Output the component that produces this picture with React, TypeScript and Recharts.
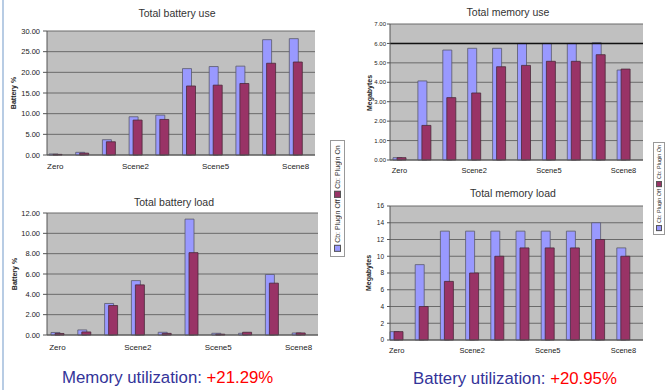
import { BarChart, Bar, XAxis, YAxis, CartesianGrid, ReferenceLine } from "recharts";

const scenes = ["Zero", "Scene0", "Scene1", "Scene2", "Scene3", "Scene4", "Scene5", "Scene6", "Scene7", "Scene8"];

const batteryUseOff = [0.25, 0.65, 3.7, 9.25, 9.65, 20.9, 21.4, 21.5, 27.9, 28.15];
const batteryUseOn = [0.15, 0.45, 3.2, 8.45, 8.6, 16.7, 16.9, 17.3, 22.2, 22.5];
const batteryLoadOff = [0.25, 0.5, 3.1, 5.35, 0.27, 11.4, 0.17, 0.17, 5.95, 0.2];
const batteryLoadOn = [0.15, 0.3, 2.9, 4.93, 0.16, 8.1, 0.08, 0.27, 5.1, 0.2];
const memoryUseOff = [0.12, 4.07, 5.66, 5.75, 5.75, 6.0, 6.0, 6.0, 6.04, 4.63];
const memoryUseOn = [0.12, 1.78, 3.21, 3.45, 4.8, 4.87, 5.08, 5.08, 5.42, 4.68];
const memoryLoadOff = [1, 9, 13, 13, 13, 13, 13, 13, 14, 11];
const memoryLoadOn = [1, 4, 7, 8, 10, 11, 11, 11, 12, 10];

const batteryUseTicks = [0, 5, 10, 15, 20, 25, 30];
const batteryLoadTicks = [0, 2, 4, 6, 8, 10, 12];
const memoryUseTicks = [0, 1, 2, 3, 4, 5, 6, 7];
const memoryLoadTicks = [0, 2, 4, 6, 8, 10, 12, 14, 16];

const seriesNames = ["Cb: Plugin Off", "Cb: Plugin On"];

const FONT = "'Liberation Sans', Arial, sans-serif";
const BLUE = "#9999ff";
const RED = "#993366";

const build = (off: number[], on: number[]) =>
  scenes.map((name, i) => ({ name, off: off[i], on: on[i] }));

type PanelProps = {
  left: number;
  top: number;
  width: number;
  height: number;
  data: { name: string; off: number; on: number }[];
  ticks: number[];
  decimals: number;
  margin: { top: number; right: number; bottom: number; left: number };
  pad: { left: number; right: number };
  yFont: number;
  xFont: number;
  yTickSize: number;
  yTickMargin: number;
  xTickMargin: number;
  refLine?: number;
};

function Panel(p: PanelProps) {
  const max = p.ticks[p.ticks.length - 1];
  return (
    <div style={{ position: "absolute", left: p.left, top: p.top }}>
      <BarChart
        width={p.width}
        height={p.height}
        data={p.data}
        margin={p.margin}
        barSize={9}
        barGap={-5}
      >
        <CartesianGrid vertical={false} fill="#c0c0c0" stroke="#6a6a6a" fillOpacity={1} />
        <XAxis
          dataKey="name"
          interval={2}
          height={20}
          padding={p.pad}
          tickLine={false}
          tickSize={0}
          tickMargin={p.xTickMargin}
          stroke="#555"
          tick={{ fontSize: p.xFont, fill: "#222", fontFamily: FONT }}
        />
        <YAxis
          width={30}
          domain={[0, max]}
          ticks={p.ticks}
          interval={0}
          tickSize={p.yTickSize}
          tickMargin={p.yTickMargin}
          stroke="#555"
          tickFormatter={(v: number) => v.toFixed(p.decimals)}
          tick={{ fontSize: p.yFont, fill: "#222", fontFamily: FONT }}
        />
        <YAxis
          yAxisId="edge"
          orientation="right"
          width={0}
          tick={false}
          tickLine={false}
          stroke="#8a8a8a"
        />
        {p.refLine !== undefined && (
          <ReferenceLine y={p.refLine} stroke="#111" strokeWidth={1.5} />
        )}
        <Bar dataKey="off" name={seriesNames[0]} fill={BLUE} stroke="#5a5a6a" strokeWidth={0.8} isAnimationActive={false} />
        <Bar dataKey="on" name={seriesNames[1]} fill={RED} stroke="#4a2a3a" strokeWidth={0.8} isAnimationActive={false} />
      </BarChart>
    </div>
  );
}

function Title({ text, cx, cy }: { text: string; cx: number; cy: number }) {
  return (
    <div
      style={{
        position: "absolute",
        left: cx - 100,
        top: cy - 7,
        width: 200,
        lineHeight: "14px",
        textAlign: "center",
        fontSize: 10.5,
        color: "#333",
        fontFamily: FONT,
      }}
    >
      {text}
    </div>
  );
}

function AxisLabel({ text, cx, cy }: { text: string; cx: number; cy: number }) {
  return (
    <div
      style={{
        position: "absolute",
        left: cx,
        top: cy,
        transform: "translate(-50%, -50%) rotate(-90deg)",
        fontSize: 7,
        fontWeight: "bold",
        whiteSpace: "nowrap",
        color: "#222",
        fontFamily: FONT,
      }}
    >
      {text}
    </div>
  );
}

function Legend({ left, top, width, height, fontSize }: { left: number; top: number; width: number; height: number; fontSize: number }) {
  const sq = fontSize * 0.7;
  return (
    <div
      style={{
        position: "absolute",
        left,
        top,
        width,
        height,
        boxSizing: "border-box",
        border: "1px solid #999",
        background: "#fff",
        display: "flex",
        alignItems: "center",
        justifyContent: "center",
      }}
    >
      <div
        style={{
          writingMode: "vertical-rl",
          transform: "rotate(180deg)",
          fontSize,
          color: "#333",
          fontFamily: FONT,
          whiteSpace: "nowrap",
          display: "flex",
          alignItems: "center",
          gap: 2,
        }}
      >
        <span style={{ width: sq, height: sq, background: BLUE, border: "0.5px solid #555", display: "inline-block" }} />
        <span>{seriesNames[0]}</span>
        <span style={{ width: sq, height: sq, background: RED, border: "0.5px solid #555", display: "inline-block" }} />
        <span>{seriesNames[1]}</span>
      </div>
    </div>
  );
}

export default function App() {
  return (
    <div
      style={{
        position: "absolute",
        left: 0,
        top: 0,
        width: 666,
        height: 390,
        background: "#fff",
        overflow: "hidden",
        fontFamily: FONT,
      }}
    >
      <div style={{ position: "absolute", left: 2, top: 0, width: 2, height: 390, background: "#b8cce4" }} />

      <Panel
        left={0}
        top={0}
        width={330}
        height={180}
        data={build(batteryUseOff, batteryUseOn)}
        ticks={batteryUseTicks}
        decimals={2}
        margin={{ top: 31, right: 15, bottom: 5, left: 17 }}
        pad={{ left: -5, right: 6 }}
        yFont={7.5}
        xFont={8}
        yTickSize={4}
        yTickMargin={3}
        xTickMargin={8}
      />
      <Title text="Total battery use" cx={177} cy={13} />
      <AxisLabel text="Battery %" cx={13} cy={93} />

      <Panel
        left={0}
        top={180}
        width={330}
        height={180}
        data={build(batteryLoadOff, batteryLoadOn)}
        ticks={batteryLoadTicks}
        decimals={2}
        margin={{ top: 33, right: 12, bottom: 5, left: 17 }}
        pad={{ left: -3, right: 6 }}
        yFont={7.5}
        xFont={8}
        yTickSize={4}
        yTickMargin={3}
        xTickMargin={9}
      />
      <Title text="Total battery load" cx={174} cy={202} />
      <AxisLabel text="Battery %" cx={14} cy={274} />

      <Panel
        left={330}
        top={0}
        width={336}
        height={185}
        data={build(memoryUseOff, memoryUseOn)}
        ticks={memoryUseTicks}
        decimals={2}
        margin={{ top: 24, right: 23, bottom: 5, left: 30 }}
        pad={{ left: -3, right: 7 }}
        yFont={6}
        xFont={7.5}
        yTickSize={3}
        yTickMargin={1}
        xTickMargin={8}
        refLine={6}
      />
      <Title text="Total memory use" cx={508} cy={12} />
      <AxisLabel text="Megabytes" cx={369} cy={93} />

      <Panel
        left={330}
        top={185}
        width={336}
        height={185}
        data={build(memoryLoadOff, memoryLoadOn)}
        ticks={memoryLoadTicks}
        decimals={0}
        margin={{ top: 21, right: 23, bottom: 10, left: 30 }}
        pad={{ left: -6, right: 7 }}
        yFont={6.5}
        xFont={7.5}
        yTickSize={3}
        yTickMargin={3}
        xTickMargin={8}
      />
      <Title text="Total memory load" cx={513} cy={193} />
      <AxisLabel text="Megabytes" cx={368} cy={273} />

      <Legend left={330} top={140} width={15} height={117} fontSize={7} />
      <Legend left={653} top={142} width={12} height={93} fontSize={5.5} />

      <div
        style={{
          position: "absolute",
          left: 62,
          top: 368,
          fontSize: 16.8,
          lineHeight: "20px",
          whiteSpace: "nowrap",
          fontFamily: FONT,
        }}
      >
        <span style={{ color: "#333399" }}>Memory utilization: </span>
        <span style={{ color: "#ff0000" }}>+21.29%</span>
      </div>
      <div
        style={{
          position: "absolute",
          left: 413,
          top: 369,
          fontSize: 16.8,
          lineHeight: "20px",
          whiteSpace: "nowrap",
          fontFamily: FONT,
        }}
      >
        <span style={{ color: "#333399" }}>Battery utilization: </span>
        <span style={{ color: "#ff0000" }}>+20.95%</span>
      </div>
    </div>
  );
}
